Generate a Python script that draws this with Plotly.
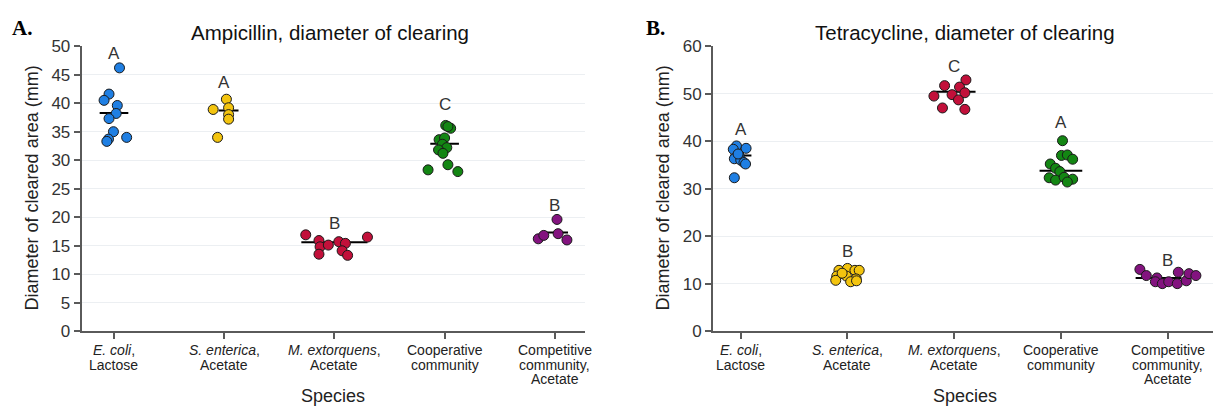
import plotly.graph_objects as go

# ---------------- data ----------------
categories = ["E. coli", "S. enterica", "M. extorquens", "Cooperative", "Competitive"]
tick_line1 = ["<i>E. coli</i>,", "<i>S. enterica</i>,", "<i>M. extorquens</i>,",
              "Cooperative", "Competitive"]
tick_line2 = ["Lactose", "Acetate", "Acetate", "community", "community,"]
tick_line3 = ["", "", "", "", "Acetate"]
colors = ["#1f7fe3", "#f3c40f", "#c2103a", "#138613", "#83137f"]

# Ampicillin (panel A)
amp_ecoli = [46.2, 41.6, 40.5, 39.6, 38.2, 37.3, 35.0, 33.7, 33.3, 34.0]
amp_ecoli_dx = [0.05, -0.045, -0.09, 0.03, 0.02, -0.045, -0.005, -0.05, -0.065, 0.115]
amp_sent = [40.7, 38.9, 39.2, 38.0, 37.2, 34.0]
amp_sent_dx = [0.02, -0.10, 0.04, 0.04, 0.04, -0.06]
amp_mext = [16.9, 15.9, 14.8, 13.5, 15.1, 15.7, 15.4, 14.1, 13.3, 16.5]
amp_mext_dx = [-0.26, -0.14, -0.13, -0.14, -0.055, 0.04, 0.10, 0.07, 0.12, 0.30]
amp_coop = [36.1, 35.6, 35.9, 33.6, 33.9, 32.8, 32.2, 31.8, 31.2, 28.3, 29.2, 28.0]
amp_coop_dx = [0.01, 0.055, 0.03, -0.05, 0.0, -0.02, 0.02, -0.055, -0.015, -0.15, 0.03, 0.12]
amp_comp = [19.6, 16.2, 16.8, 17.1, 16.0]
amp_comp_dx = [0.02, -0.15, -0.10, 0.03, 0.11]
amp_center = [38.3, 38.7, 15.6, 32.9, 17.3]
amp_bar_left = [-0.13, -0.05, -0.30, -0.13, -0.09]
amp_bar_right = [0.13, 0.13, 0.30, 0.13, 0.12]
amp_letters = ["A", "A", "B", "C", "B"]
amp_letter_y = [48.7, 43.6, 18.9, 39.8, 22.0]

# Tetracycline (panel B)
tet_ecoli = [32.3, 39.0, 38.5, 38.3, 36.9, 36.3, 36.0, 35.5, 35.2, 37.3]
tet_ecoli_dx = [-0.06, -0.04, 0.05, -0.07, -0.015, -0.06, 0.0, 0.03, 0.045, -0.025]
tet_sent = [12.8, 13.2, 12.8, 12.8, 11.6, 11.6, 11.0, 10.7, 10.4, 10.6, 12.2]
tet_sent_dx = [-0.08, 0.0, 0.07, 0.11, -0.10, -0.01, 0.08, -0.11, 0.03, 0.085, -0.05]
tet_mext = [52.9, 51.7, 51.4, 49.5, 49.8, 50.2, 48.7, 47.0, 46.7]
tet_mext_dx = [0.11, -0.09, 0.05, -0.19, -0.02, 0.10, 0.04, -0.11, 0.10]
tet_coop = [40.1, 37.0, 37.1, 36.2, 35.2, 34.3, 33.6, 32.3, 31.8, 32.4, 32.0, 31.4]
tet_coop_dx = [0.015, 0.005, 0.06, 0.11, -0.10, -0.05, -0.01, -0.11, -0.05, 0.03, 0.11, 0.06]
tet_comp = [13.0, 11.7, 11.2, 10.4, 10.0, 10.4, 10.0, 12.4, 10.6, 12.1, 11.7]
tet_comp_dx = [-0.26, -0.20, -0.10, -0.115, -0.05, 0.01, 0.09, 0.10, 0.175, 0.20, 0.265]
tet_center = [37.0, 11.3, 50.4, 33.8, 11.2]
tet_bar_left = [-0.10, -0.15, -0.20, -0.20, -0.30]
tet_bar_right = [0.10, 0.13, 0.20, 0.20, 0.13]
tet_letters = ["A", "B", "C", "A", "B"]
tet_letter_y = [42.5, 16.8, 55.7, 43.9, 14.8]

amp_groups = [(amp_ecoli, amp_ecoli_dx), (amp_sent, amp_sent_dx), (amp_mext, amp_mext_dx),
              (amp_coop, amp_coop_dx), (amp_comp, amp_comp_dx)]
tet_groups = [(tet_ecoli, tet_ecoli_dx), (tet_sent, tet_sent_dx), (tet_mext, tet_mext_dx),
              (tet_coop, tet_coop_dx), (tet_comp, tet_comp_dx)]

W, H = 1213, 417
fig = go.Figure()

FONT = "Liberation Sans, Arial, sans-serif"
AX = "#5a5a5a"
GRID = "#eceff2"


def add_panel(groups, center, bl, br, letters, letter_y, xa, ya):
    for i, c in enumerate(center):
        fig.add_trace(go.Scatter(x=[i + bl[i], i + br[i]], y=[c, c], mode="lines",
                                 line=dict(color="black", width=2), xaxis=xa, yaxis=ya,
                                 showlegend=False, hoverinfo="skip"))
    for i, (vals, dx) in enumerate(groups):
        fig.add_trace(go.Scatter(x=[i + d for d in dx], y=vals, mode="markers",
                                 marker=dict(size=10, color=colors[i],
                                             line=dict(color="#1a1a1a", width=1)),
                                 xaxis=xa, yaxis=ya, showlegend=False, name=categories[i]))
    for i, (t, yv) in enumerate(zip(letters, letter_y)):
        fig.add_annotation(x=i, y=yv, xref=xa, yref=ya, text=t, showarrow=False,
                           font=dict(family=FONT, size=17, color="#333"),
                           xanchor="center", yanchor="middle")
    # category labels (three tight lines, as in the reference)
    for lines, ypix in ((tick_line1, 357.5), (tick_line2, 372.5), (tick_line3, 387.5)):
        for i, t in enumerate(lines):
            if t:
                fig.add_annotation(x=i, y=1 - ypix / H, xref=xa, yref="paper", text=t,
                                   showarrow=False, xanchor="center", yanchor="middle",
                                   font=dict(family=FONT, size=14, color="#222"))


add_panel(amp_groups, amp_center, amp_bar_left, amp_bar_right, amp_letters, amp_letter_y, "x", "y")
add_panel(tet_groups, tet_center, tet_bar_left, tet_bar_right, tet_letters, tet_letter_y, "x2", "y2")

ytop = 1 - 39 / H
ybot = 1 - 337.5 / H
lx0, lx1 = 81.7 / W, 585 / W
rx0, rx1 = 713 / W, 1.0

xcommon = dict(tickvals=list(range(5)), ticktext=[""] * 5, ticks="outside", ticklen=6,
               tickwidth=1.5, tickcolor=AX, showline=True, linecolor=AX, linewidth=2,
               showgrid=False, zeroline=False,
               tickfont=dict(family=FONT, size=14, color="#222"))
ycommon = dict(ticks="outside", ticklen=6, tickwidth=1.5, tickcolor=AX, showline=True,
               linecolor=AX, linewidth=2, showgrid=True, gridcolor=GRID, gridwidth=1,
               zeroline=False, tickfont=dict(family=FONT, size=17, color="#333"))

fig.update_layout(
    width=W, height=H, autosize=False, margin=dict(l=0, r=0, t=0, b=0, pad=0),
    paper_bgcolor="white", plot_bgcolor="white",
    xaxis=dict(domain=[lx0, lx1], range=[-0.293, 4.274], anchor="y", **xcommon),
    yaxis=dict(domain=[ybot, ytop], range=[0, 50], dtick=5, anchor="x", **ycommon),
    xaxis2=dict(domain=[rx0, rx1], range=[-0.26, 4.425], anchor="y2", **xcommon),
    yaxis2=dict(domain=[ybot, ytop], range=[0, 60], dtick=10, anchor="x2", **ycommon),
)

# titles and labels
def pa(text, x, y, size, angle=0, family=FONT, color="#111"):
    fig.add_annotation(x=x / W, y=1 - y / H, xref="paper", yref="paper", text=text,
                       showarrow=False, textangle=angle, xanchor="center", yanchor="middle",
                       font=dict(family=family, size=size, color=color))

pa("Ampicillin, diameter of clearing", 330, 25, 20.5)
pa("Tetracycline, diameter of clearing", 965, 25, 20.5)
pa("<b>A.</b>", 22, 20, 21, family="Liberation Serif, Times New Roman, serif", color="black")
pa("<b>B.</b>", 655, 20, 21, family="Liberation Serif, Times New Roman, serif", color="black")
pa("Diameter of cleared area (mm)", 32, 188, 18, angle=-90, color="#222")
pa("Diameter of cleared area (mm)", 663, 188, 18, angle=-90, color="#222")
pa("Species", 333, 405, 18, color="#222")
pa("Species", 965, 405, 18, color="#222")

fig.write_html("out.html", config={"responsive": False, "displayModeBar": False},
               default_width="1213px", default_height="417px")
